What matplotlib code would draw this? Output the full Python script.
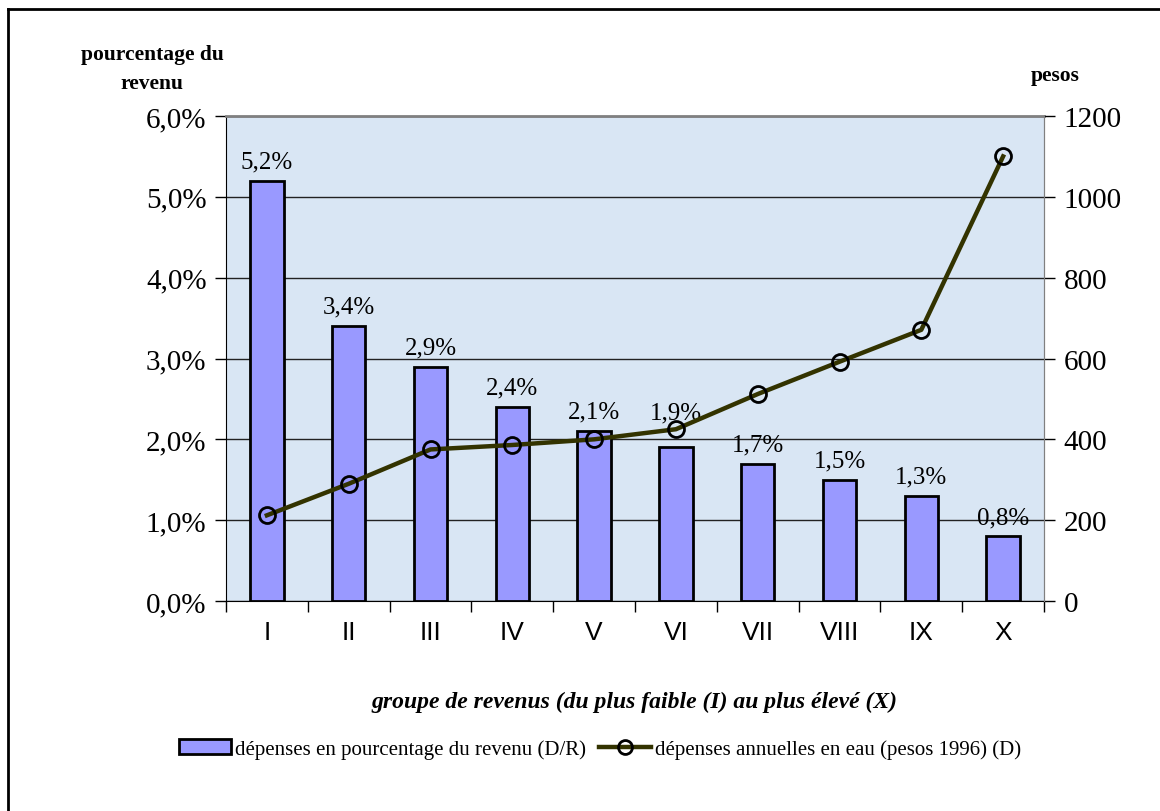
"""Water spending by income decile: share of income (bars) and annual pesos (line)."""

import matplotlib

matplotlib.use("Agg")

import matplotlib.pyplot as plt  # noqa: E402
from matplotlib.lines import Line2D  # noqa: E402
from matplotlib.ticker import FixedLocator, FuncFormatter  # noqa: E402

groups = ["I", "II", "III", "IV", "V", "VI", "VII", "VIII", "IX", "X"]
share_pct = [5.2, 3.4, 2.9, 2.4, 2.1, 1.9, 1.7, 1.5, 1.3, 0.8]
annual_pesos = [212, 290, 375, 386, 400, 425, 512, 592, 671, 1100]

bar_label = "dépenses en pourcentage du revenu (D/R)"
line_label = "dépenses annuelles en eau (pesos 1996) (D)"
x_title = "groupe de revenus (du plus faible (I) au plus élevé (X)"

SERIF = "Liberation Serif"
SANS = "Liberation Sans"
BAR = "#9999ff"
LINE = "#333300"
PLOT_BG = "#d9e6f4"


def pct(v, _pos=None):
    return f"{v:.1f}".replace(".", ",") + "%"


fig = plt.figure(figsize=(11.6, 8.12), dpi=100)
fig.patch.set_facecolor("white")

# outer frame (only top and left edges visible in the crop)
fig.add_artist(Line2D([8 / 1160, 1.0], [1 - 10 / 812] * 2, color="black", lw=2))
fig.add_artist(Line2D([8 / 1160] * 2, [0, 1 - 10 / 812], color="black", lw=2))

ax = fig.add_axes([226 / 1160, 1 - 602 / 812, 818 / 1160, 485 / 812])
ax.set_facecolor(PLOT_BG)
xs = list(range(len(groups)))
ax.bar(xs, share_pct, width=0.41, color=BAR, edgecolor="black", linewidth=2, zorder=3)
for x, v, p in zip(xs, share_pct, annual_pesos):
    # nudge a label up when the line runs through it (as the spreadsheet did)
    lift = 17 if abs(v * 200 - p) < 60 and v < 2.0 else 6
    ax.annotate(pct(v), (x, v), xytext=(0, lift), textcoords="offset points",
                ha="center", va="bottom", family=SERIF, fontsize=18, zorder=4)

ax.set_xlim(-0.5, len(groups) - 0.5)
ax.set_ylim(0, 6)
ax.yaxis.set_major_locator(FixedLocator([0, 1, 2, 3, 4, 5, 6]))
ax.yaxis.set_major_formatter(FuncFormatter(pct))
ax.grid(axis="y", color="#222222", lw=1, zorder=1)
ax.set_xticks(xs)
ax.set_xticklabels(groups, family=SANS, fontsize=19)
ax.set_xticks([x + 0.5 for x in xs[:-1]] + [-0.5, len(groups) - 0.5], minor=True)
ax.tick_params(axis="x", which="major", length=0, pad=14)
ax.tick_params(axis="x", which="minor", length=8, width=1, direction="out")
ax.tick_params(axis="y", length=8, width=1, direction="out", pad=6, labelsize=21)
for lbl in ax.get_yticklabels():
    lbl.set_family(SERIF)
ax.spines["left"].set_color("black")
ax.spines["bottom"].set_color("black")
ax.spines["top"].set_color("#808080")
ax.spines["top"].set_linewidth(2)
ax.spines["right"].set_color("#808080")

ax2 = ax.twinx()
ax2.plot(xs, annual_pesos, color=LINE, lw=3.2, marker="o", markersize=11.5,
         markerfacecolor="none", markeredgecolor="black", markeredgewidth=2, zorder=5)
ax2.set_ylim(0, 1200)
ax2.yaxis.set_major_locator(FixedLocator([0, 200, 400, 600, 800, 1000, 1200]))
ax2.tick_params(axis="y", length=8, width=1, direction="out", pad=6, labelsize=21)
for lbl in ax2.get_yticklabels():
    lbl.set_family(SERIF)
for side in ("left", "bottom", "top"):
    ax2.spines[side].set_visible(False)
ax2.spines["right"].set_color("#808080")

# axis titles
fig.text(152 / 1160, 1 - 55 / 812, "pourcentage du", ha="center", va="center",
         family=SERIF, fontweight="bold", fontsize=15.5)
fig.text(152 / 1160, 1 - 84 / 812, "revenu", ha="center", va="center",
         family=SERIF, fontweight="bold", fontsize=15.5)
fig.text(1055 / 1160, 1 - 76 / 812, "pesos", ha="center", va="center",
         family=SERIF, fontweight="bold", fontsize=15.5)
fig.text(634 / 1160, 1 - 702 / 812, x_title, ha="center", va="center",
         family=SERIF, fontweight="bold", style="italic", fontsize=17)

handles = [
    plt.Rectangle((0, 0), 1, 1, facecolor=BAR, edgecolor="black", linewidth=2),
    Line2D([], [], color=LINE, lw=3.2, marker="o", markersize=10,
           markerfacecolor="none", markeredgecolor="black", markeredgewidth=2),
]
fig.legend(handles, [bar_label, line_label], loc="center", ncol=2,
           bbox_to_anchor=(600 / 1160, 1 - 750 / 812), frameon=False,
           prop={"family": SERIF, "size": 15}, handlelength=2.5,
           handletextpad=0.2, columnspacing=0.6)

fig.savefig("out.png", dpi=100, facecolor=fig.get_facecolor())
